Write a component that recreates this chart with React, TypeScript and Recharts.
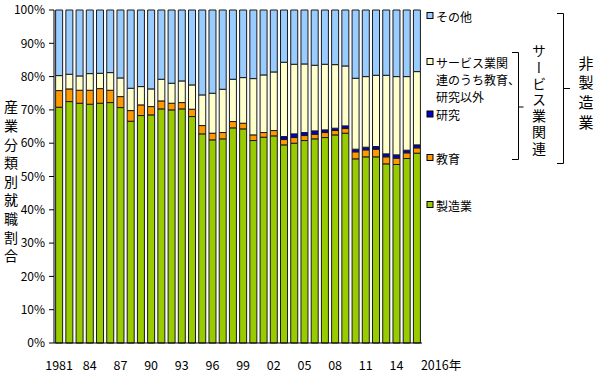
import { BarChart, Bar, XAxis, YAxis } from "recharts";

const years = [
  "1981", "1982", "1983", "1984", "1985", "1986", "1987", "1988", "1989",
  "1990", "1991", "1992", "1993", "1994", "1995", "1996", "1997", "1998",
  "1999", "2000", "2001", "2002", "2003", "2004", "2005", "2006", "2007",
  "2008", "2009", "2010", "2011", "2012", "2013", "2014", "2015", "2016",
];

// 製造業
const manufacturing = [
  70.8, 72.5, 72.0, 71.7, 72.0, 72.2, 70.7, 66.6, 68.3, 68.5, 70.3, 70.0,
  70.3, 68.0, 62.8, 61.0, 61.3, 64.6, 64.3, 60.8, 61.8, 62.2, 59.5, 60.0,
  60.8, 61.3, 61.7, 62.5, 63.0, 55.3, 55.9, 55.9, 53.8, 53.6, 55.4, 57.0,
];
// 教育
const education = [
  5.0, 3.8, 3.9, 4.2, 4.4, 3.7, 3.3, 3.2, 3.2, 2.5, 2.4, 2.0,
  1.9, 2.2, 2.5, 2.0, 1.9, 1.9, 1.7, 1.7, 1.4, 1.6, 1.6, 1.7,
  1.5, 1.4, 1.5, 1.3, 1.4, 2.1, 2.1, 2.3, 2.1, 1.9, 1.7, 1.6,
];
// 研究
const research = [
  0, 0, 0, 0, 0, 0, 0, 0, 0, 0, 0, 0,
  0, 0, 0, 0, 0, 0, 0, 0, 0, 0, 0.9, 1.1,
  0.9, 1.0, 0.8, 0.7, 0.8, 0.8, 0.8, 0.8, 0.9, 1.0, 0.8, 0.9,
];
// サービス業関連のうち教育、研究以外
const services = [
  4.5, 4.4, 4.3, 5.0, 4.6, 5.3, 5.6, 6.7, 5.5, 5.3, 6.5, 6.0,
  6.5, 7.3, 9.2, 12.0, 13.0, 12.7, 13.7, 16.9, 17.3, 17.6, 22.3, 20.9,
  20.6, 19.7, 19.7, 19.1, 18.0, 21.3, 21.2, 21.4, 23.6, 23.5, 22.1, 22.0,
];
// その他
const others = [
  19.7, 19.3, 19.8, 19.1, 19.0, 18.8, 20.4, 23.5, 23.0, 23.7, 20.8, 22.0,
  21.3, 22.5, 25.5, 25.0, 23.8, 20.8, 20.3, 20.6, 19.5, 18.6, 15.7, 16.3,
  16.2, 16.6, 16.3, 16.4, 16.8, 20.5, 20.0, 19.6, 19.6, 20.0, 20.0, 18.5,
];

const tickYears = ["1981", "1984", "1987", "1990", "1993", "1996", "1999", "2002", "2005", "2008", "2011", "2014", "2016"];
const tickTexts = ["1981", "84", "87", "90", "93", "96", "99", "02", "05", "08", "11", "14", "2016年"];
const yTicks = [0, 10, 20, 30, 40, 50, 60, 70, 80, 90, 100];

const data = years.map((year, i) => ({
  year,
  manufacturing: manufacturing[i],
  education: education[i],
  research: research[i],
  services: services[i],
  others: others[i],
}));

const FONT = "'Noto Sans CJK JP', 'Noto Sans', sans-serif";
const GREEN = "#99cc00";
const ORANGE = "#ff9900";
const BLUE = "#0000cc";
const CREAM = "#ffffcc";
const SKY = "#99ccff";

const XTick = (props: any) => {
  const { x, y, payload } = props;
  const idx = tickYears.indexOf(payload.value);
  if (idx < 0) return null;
  const last = idx === tickYears.length - 1;
  return (
    <text
      x={last ? x + 4 : x}
      y={y + 19}
      textAnchor={last ? "start" : "middle"}
      fontSize={12.5}
      fontFamily={FONT}
      fill="#000"
    >
      {tickTexts[idx]}
    </text>
  );
};

const legendItems = [
  { color: SKY, lines: ["その他"], y: 16 },
  { color: CREAM, lines: ["サービス業関", "連のうち教育、", "研究以外"], y: 62 },
  { color: BLUE, lines: ["研究"], y: 114.5 },
  { color: ORANGE, lines: ["教育"], y: 158 },
  { color: GREEN, lines: ["製造業"], y: 205 },
];

const VText = ({ x, y, size, gap, children }: any) => (
  <text
    x={x}
    y={y}
    fontSize={size}
    letterSpacing={gap}
    style={{ writingMode: "vertical-rl" } as any}
    fill="#000"
  >
    {children}
  </text>
);

const Overlay = () => (
  <svg
    width={600}
    height={380}
    style={{ position: "absolute", left: 0, top: 0, pointerEvents: "none" }}
    fontFamily={FONT}
  >
    <VText x={11} y={100} size={14} gap={4.6}>産業分類別就職割合</VText>
    {legendItems.map((item, i) => (
      <g key={i}>
        <rect x={427} y={item.y - 3.5} width={6} height={6} fill={item.color} stroke="#000" strokeWidth={1} />
        {item.lines.map((line, j) => (
          <text key={j} x={436} y={item.y + j * 17.4} fontSize={12} dominantBaseline="central">
            {line}
          </text>
        ))}
      </g>
    ))}
    {/* inner bracket: サービス業関連 */}
    <path d="M512,52.5 H518.5 V159.5 H512 M518.5,107 H523.5" fill="none" stroke="#000" strokeWidth={1} />
    <VText x={539} y={44} size={14} gap={2.2}>サービス業関連</VText>
    {/* outer bracket: 非製造業 */}
    <path d="M557,13.5 H563.5 V163.5 H557 M563.5,88.5 H570" fill="none" stroke="#000" strokeWidth={1} />
    <VText x={586} y={55.5} size={15} gap={4.8}>非製造業</VText>
  </svg>
);

export default function App() {
  return (
    <div style={{ position: "absolute", left: 0, top: 0, width: 600, height: 380, background: "#fff" }}>
      <BarChart
        width={600}
        height={380}
        data={data}
        margin={{ top: 10, right: 178, bottom: 7, left: 0 }}
        barCategoryGap="16%"
      >
        <XAxis
          dataKey="year"
          interval={0}
          tickLine={false}
          axisLine={{ stroke: "#000" }}
          height={30}
          tick={<XTick />}
        />
        <YAxis
          width={54}
          domain={[0, 100]}
          ticks={yTicks}
          tickFormatter={(v: number) => `${v}%`}
          axisLine={{ stroke: "#000" }}
          tickLine={{ stroke: "#000" }}
          tickSize={5}
          tickMargin={4}
          tick={{ fill: "#000", fontSize: 12, fontFamily: FONT }}
        />
        <Bar dataKey="manufacturing" stackId="a" fill={GREEN} stroke="#1a1a1a" strokeWidth={1} isAnimationActive={false} />
        <Bar dataKey="education" stackId="a" fill={ORANGE} stroke="#1a1a1a" strokeWidth={1} isAnimationActive={false} />
        <Bar dataKey="research" stackId="a" fill={BLUE} stroke="#1a1a1a" strokeWidth={1} isAnimationActive={false} />
        <Bar dataKey="services" stackId="a" fill={CREAM} stroke="#1a1a1a" strokeWidth={1} isAnimationActive={false} />
        <Bar dataKey="others" stackId="a" fill={SKY} stroke="#1a1a1a" strokeWidth={1} isAnimationActive={false} />
      </BarChart>
      <Overlay />
    </div>
  );
}
